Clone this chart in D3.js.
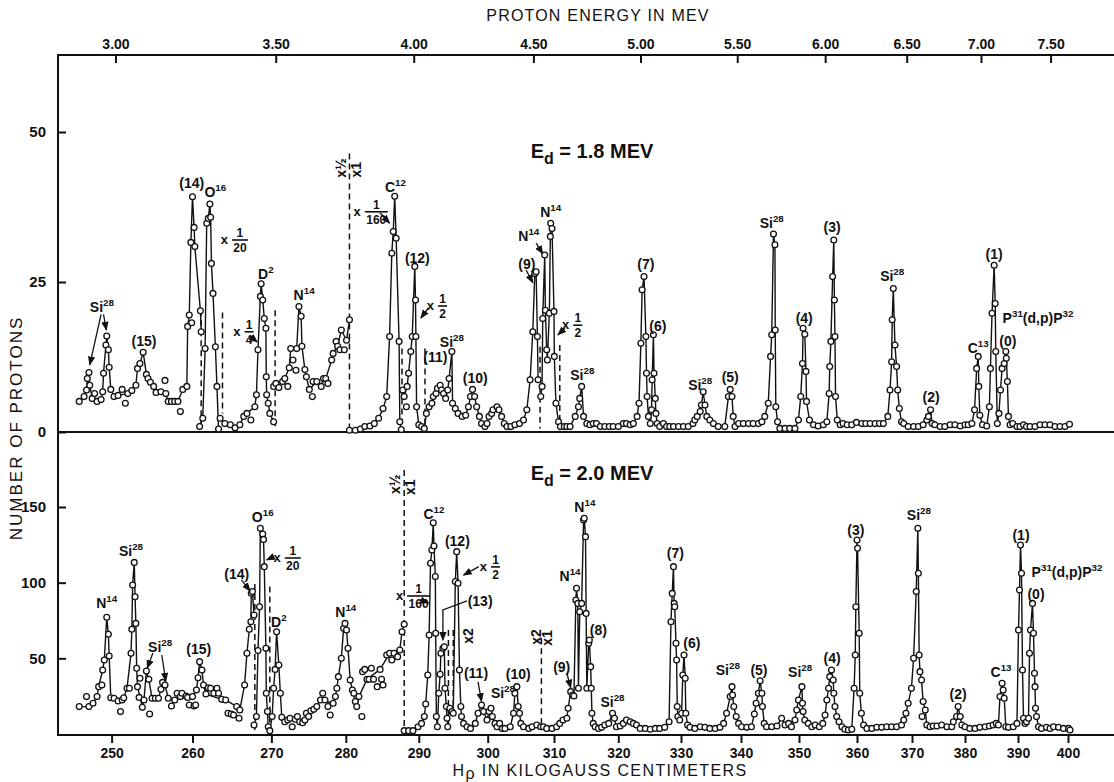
<!DOCTYPE html>
<html>
<head>
<meta charset="utf-8">
<script src="https://cdn.jsdelivr.net/npm/d3@7"></script>
<style>
  body { margin: 0; background: #fff; }
  svg { display: block; }
  text { font-family: "Liberation Sans", Arial, sans-serif; fill: #111; }
  .lbl { font-weight: bold; }
</style>
</head>
<body>
<svg id="chart" width="1114" height="782"></svg>
<script>
// ---- data ----
const hpTicks = [250, 260, 270, 280, 290, 300, 310, 320, 330, 340, 350, 360, 370, 380, 390, 400];
const energyTicks = [3.0, 3.5, 4.0, 4.5, 5.0, 5.5, 6.0, 6.5, 7.0, 7.5];
const topYTicks = [0, 25, 50];
const bottomYTicks = [50, 100, 150];

// [H rho, protons, f]  f: 2 = starts a new joined run, 1 = joined, 0 = point only
const topSeries = [
  [246.0,5.1,2],[246.6,5.9,1],[246.9,7.0,1],[247.0,8.9,1],[247.2,9.9,1],[247.3,7.8,1],[247.6,5.6,1],[247.9,6.4,0],
  [248.2,5.1,1],[248.7,5.4,1],[248.9,6.7,1],[249.0,9.8,1],[249.3,14.5,1],[249.4,16.0,1],[249.6,13.7,1],[249.7,10.8,1],
  [249.9,7.1,1],[250.3,5.9,1],[250.8,6.1,1],[251.3,7.1,0],[251.7,4.8,0],[252.0,6.4,1],[252.5,6.9,1],[253.0,7.8,1],
  [253.2,10.6,1],[253.5,11.4,1],[253.9,13.3,1],[254.3,9.6,1],[254.5,8.9,1],[254.8,8.3,1],[255.2,7.6,1],[255.5,6.6,1],
  [256.1,6.7,1],[256.6,8.6,0],[256.7,6.4,1],[257.0,5.1,1],[257.4,5.1,1],[257.8,5.1,1],[258.2,5.1,1],[258.5,3.4,0],
  [258.8,7.1,1],[259.3,7.6,1],[259.4,17.6,1],[259.6,19.5,1],[259.9,18.2,0],[259.8,31.6,1],[260.0,39.2,1],[260.2,34.1,1],
  [260.3,30.9,1],[261.0,20.2,1],[261.1,16.7,1],
  [260.9,0.9,2],[261.3,2.3,1],[261.6,13.9,1],[261.8,34.8,1],[262.0,35.6,1],[262.2,38.0,1],[262.3,35.8,1],[262.4,28.1,1],
  [262.6,23.1,1],[262.9,14.2,1],[263.1,7.6,1],[263.3,0.5,1],
  [263.5,2.3,2],[264.1,1.4,1],[264.8,1.2,1],[265.4,0.7,1],[266.0,1.2,1],[266.5,2.6,1],[266.9,3.1,1],[267.4,2.0,0],
  [267.9,4.2,1],[268.1,6.2,1],[268.3,13.7,1],[268.6,22.6,1],[268.7,24.7,1],[268.9,22.0,1],[269.1,18.9,1],[269.3,17.3,1],
  [269.35,9.2,1],[269.4,6.2,1],[269.6,4.8,1],[269.8,3.1,1],[270.3,1.7,1],
  [270.3,7.6,2],[270.6,8.1,1],[271.0,7.4,0],[271.5,8.4,1],[271.8,8.9,1],[272.2,7.6,0],[272.4,10.7,1],[272.6,13.9,1],
  [272.9,12.0,0],[273.3,10.3,0],[273.4,13.9,1],[273.7,20.9,1],[274.0,19.3,1],[274.1,14.3,1],[274.5,10.4,1],[274.7,9.2,1],
  [275.1,7.1,1],[275.5,5.9,0],[275.6,8.4,0],[276.1,8.4,1],[276.7,7.6,1],[277.0,8.9,1],[277.3,8.9,1],[277.6,8.1,0],
  [278.1,12.0,1],[278.3,13.1,1],[278.7,15.1,0],[278.9,14.3,1],[279.2,13.7,0],[279.4,17.0,1],[279.8,13.7,0],[280.1,15.3,1],
  [280.5,18.7,1],
  [280.5,0.3,2],[281.3,0.3,1],[282.0,0.5,1],[282.6,0.9,1],[283.3,1.0,1],[283.9,1.4,1],[284.5,2.3,1],[285.1,3.9,1],
  [285.6,5.9,1],[286.0,15.9,1],[286.3,29.8,1],[286.5,33.4,1],[286.7,39.3,1],[286.9,32.3,1],[287.3,15.1,1],[287.4,1.7,1],
  [287.6,0.4,1],
  [287.8,7.0,2],[288.0,5.9,1],[288.3,4.2,0],[288.4,7.6,1],[288.6,9.8,1],[288.9,13.4,1],[289.1,15.9,1],[289.45,27.6,1],
  [289.55,22.0,1],[289.6,15.9,1],[289.7,4.2,1],[290.0,1.2,1],[290.4,0.9,1],
  [290.8,0.6,2],[291.1,3.1,1],[291.5,4.2,1],[291.9,4.8,1],[292.1,5.9,1],[292.5,6.4,1],[292.7,7.3,1],[293.1,7.8,1],
  [293.3,7.0,1],[293.6,6.4,1],[293.9,5.6,1],[294.2,7.0,1],[294.4,8.9,1],[294.8,13.4,1],[294.9,4.8,1],[295.3,3.9,1],
  [295.7,3.1,1],[296.3,2.6,1],[296.8,2.8,1],[297.2,4.2,1],[297.5,5.9,1],[297.8,7.1,1],[298.1,5.9,1],[298.4,4.2,1],
  [298.8,2.6,1],[299.1,1.4,1],[299.6,0.9,1],[299.9,1.4,1],[300.2,2.6,1],[300.6,3.1,1],[300.8,3.7,1],[301.4,4.2,1],
  [301.7,3.7,1],[302.1,2.6,1],[302.5,1.4,1],[302.9,0.9,1],[303.5,0.9,1],[304.1,1.2,1],[304.8,1.4,1],[305.4,2.0,1],
  [305.9,3.7,1],[306.4,8.7,1],[306.8,16.7,1],[307.1,26.4,1],[307.3,26.7,1],[307.5,15.9,1],[307.6,8.7,1],
  [308.0,5.9,2],[308.2,7.6,1],[308.3,18.9,1],[308.6,29.5,1],[308.7,20.3,1],[308.9,13.7,1],[309.0,12.0,1],[309.3,19.8,1],
  [309.45,32.6,1],[309.5,34.8,1],[309.7,33.9,1],[310.0,20.1,1],[310.05,12.6,1],[310.3,4.8,1],[310.7,1.7,1],
  [311.0,0.9,2],[311.6,0.9,1],[312.0,0.9,1],[312.5,0.9,1],[313.3,2.6,1],[313.8,4.2,1],[314.0,5.6,1],[314.3,7.6,1],
  [314.6,2.6,1],[315.1,1.4,1],[315.6,1.2,1],[316.1,1.4,1],[316.6,1.4,1],[317.2,0.9,1],[317.9,0.9,1],[318.6,0.9,1],
  [319.2,0.9,1],[320.0,0.9,1],[320.8,1.4,1],[321.3,1.4,1],[321.9,1.2,1],[322.4,1.4,1],[323.0,2.6,1],[323.3,4.8,1],
  [323.6,14.8,1],[323.8,23.7,1],[324.1,25.9,1],[324.4,15.9,1],[324.5,9.8,1],[324.6,5.9,1],[324.8,2.6,1],[325.1,1.4,1],
  [325.3,3.7,1],[325.4,8.7,1],[325.6,16.2,1],[325.7,9.8,1],[325.9,5.6,1],[326.0,3.1,1],[326.2,1.4,1],[326.6,0.9,1],
  [327.2,1.4,1],[327.7,0.9,1],[328.2,0.9,1],[328.8,0.9,1],[329.6,0.9,1],[330.4,0.9,1],[331.2,0.9,1],[332.0,1.4,1],
  [332.3,2.0,1],[332.7,2.6,1],[333.2,3.4,1],[333.4,4.5,1],[333.7,6.7,1],[334.0,4.5,1],[334.3,2.6,1],[334.8,2.0,1],
  [335.4,1.4,1],[336.2,0.9,1],[337.3,0.9,1],[337.9,5.9,1],[338.2,7.1,1],[338.5,5.9,1],[338.7,2.6,1],[339.0,0.9,1],
  [339.6,1.4,1],[340.4,1.4,1],[341.3,1.4,1],[342.1,1.4,1],[343.0,1.4,1],[343.6,1.7,1],[344.1,2.6,1],[344.7,4.8,1],
  [345.1,12.6,1],[345.3,16.2,1],[345.6,33.0,1],[345.85,31.2,1],[345.9,17.0,1],[346.0,4.2,1],[346.3,1.7,1],[346.7,0.6,1],
  [347.6,0.6,1],[348.4,0.6,1],[349.3,0.6,1],[349.9,2.0,1],[350.3,5.9,1],[350.6,11.4,1],[350.7,17.3,1],[351.0,16.3,1],
  [351.2,10.1,1],[351.3,5.1,1],[351.8,2.0,1],[352.5,1.2,1],[353.3,1.0,1],[354.2,1.2,1],[354.8,1.7,1],[355.2,6.4,1],
  [355.3,10.9,1],[355.5,15.1,1],[355.8,25.9,1],[356.0,32.0,1],[356.1,22.0,1],[356.2,15.9,1],[356.3,5.9,1],[356.6,2.0,1],
  [357.1,1.2,1],[357.6,1.4,1],[358.3,1.2,1],[359.1,1.2,1],[359.9,1.6,1],[360.9,1.4,1],[361.6,1.4,1],[362.4,1.4,1],
  [363.3,1.4,1],[364.1,1.4,1],[364.8,1.4,1],[365.6,2.6,1],[366.0,7.0,1],[366.3,11.7,1],[366.4,18.7,1],[366.6,23.9,1],
  [366.9,14.5,1],[367.2,10.9,1],[367.4,7.0,1],[367.7,3.9,1],[368.1,1.7,1],[368.5,1.4,1],[369.3,0.9,1],[370.3,0.9,1],
  [371.2,0.9,1],[372.1,1.2,1],[372.8,2.0,1],[373.1,2.6,1],[373.5,3.7,1],[373.8,1.4,1],[374.3,1.2,1],[375.3,0.9,1],
  [376.2,0.9,1],[377.2,1.2,1],[378.1,1.2,1],[379.1,1.0,1],[380.0,1.2,1],[380.6,1.2,1],[381.3,1.4,1],[381.8,3.7,1],
  [382.2,10.6,1],[382.5,12.6,1],[382.6,7.6,1],[382.8,2.8,1],[383.3,1.2,1],[384.1,1.0,1],[384.6,4.2,1],[384.8,10.6,1],
  [385.1,19.8,1],[385.5,27.8,1],[385.7,21.4,1],[385.8,13.4,1],[386.1,1.4,1],[386.4,3.1,1],[386.7,7.0,1],[387.0,10.6,1],
  [387.4,11.4,1],[387.7,13.4,1],[387.8,12.3,1],[388.0,8.4,1],[388.2,2.6,1],[388.5,1.2,1],[389.0,1.4,1],[389.8,0.9,1],
  [390.4,0.9,1],[391.1,1.2,1],[391.7,0.9,1],[392.4,0.9,1],[393.4,0.9,1],[394.4,1.2,1],[395.4,1.2,1],[396.4,1.2,1],
  [397.4,0.9,1],[398.4,0.9,1],[399.4,0.9,1],[400.3,1.3,1]
];

const bottomSeries = [
  [246.0,18.1,2],[246.9,24.7,0],[247.2,18.1,1],[247.7,20.3,1],[248.2,24.7,1],[248.4,31.3,1],[248.8,32.4,0],[248.9,42.3,1],
  [249.1,48.9,1],[249.4,77.1,1],[249.6,65.9,1],[249.7,51.5,1],[249.9,24.0,1],[250.3,23.6,0],[250.8,21.8,0],[251.1,14.8,0],
  [251.3,22.5,1],[251.5,24.0,1],[251.9,30.2,1],[252.2,30.2,0],[252.4,53.3,1],[252.5,69.2,1],[252.6,98.5,1],[252.8,113.4,1],
  [252.9,90.7,1],[253.0,73.1,1],[253.1,43.4,1],[253.2,31.3,1],[253.4,24.2,0],[253.5,36.8,0],[253.8,17.6,1],[254.0,22.5,1],
  [254.3,41.6,1],[254.6,36.1,1],[254.7,13.2,0],[255.0,23.6,1],[255.4,23.6,1],[255.8,23.6,1],[256.1,29.5,1],[256.3,34.1,1],
  [256.6,32.4,1],[257.0,23.6,1],[257.4,18.5,0],[257.8,22.5,1],[258.1,26.9,0],[258.5,24.7,1],[258.7,26.9,0],[259.2,25.1,1],
  [259.4,24.2,1],[259.6,19.2,0],[260.0,24.7,1],[260.2,18.5,0],[260.4,19.2,0],[260.5,29.1,1],[260.7,37.2,1],[260.9,47.8,1],
  [261.2,42.3,1],[261.4,32.4,1],[261.7,26.4,1],[262.0,30.6,0],[262.3,30.2,0],[262.7,26.9,0],[263.1,30.2,0],[263.3,26.9,0],
  [263.7,22.9,1],[264.2,22.5,1],[264.5,13.7,0],[264.9,13.2,0],[265.2,12.6,0],[265.6,18.1,1],[265.9,10.4,0],[266.0,15.9,1],
  [266.6,32.4,1],[266.9,53.3,1],[267.2,69.2,1],[267.4,74.2,1],[267.45,93.0,1],[267.6,94.1,1],[267.8,78.6,1],
  [267.8,5.9,2],[268.1,11.5,1],[268.3,55.1,1],[268.5,84.1,1],[268.6,135.9,1],[268.9,132.2,1],[269.0,128.6,1],[269.1,110.6,1],
  [269.3,56.6,1],[269.35,26.9,1],[269.5,14.8,1],[269.6,4.8,1],
  [269.8,2.2,2],[270.1,11.5,1],[270.3,30.2,1],[270.5,42.7,1],[270.7,67.6,1],[271.0,45.6,1],[271.2,26.9,1],[271.4,11.0,1],
  [271.8,8.1,1],[272.2,9.3,1],[272.5,10.4,0],[272.8,4.8,0],[273.2,9.7,1],[273.5,11.5,0],[273.8,8.1,0],[274.2,7.5,0],
  [274.5,9.3,1],[274.7,13.7,0],[275.0,11.5,0],[275.3,15.4,1],[275.7,16.3,0],[276.1,18.1,1],[276.6,22.5,1],[276.9,26.9,0],
  [277.2,22.5,0],[277.6,18.1,0],[277.9,12.6,0],[278.3,20.3,1],[278.6,24.7,1],[278.8,30.2,1],[279.0,37.9,1],[279.4,50.0,1],
  [279.7,69.8,1],[279.9,73.1,1],[280.1,68.7,1],[280.3,56.6,1],[280.6,35.7,1],[280.9,29.1,1],[281.1,26.9,0],[281.3,21.4,1],
  [281.5,18.1,1],[281.8,24.7,1],[282.2,11.5,0],[282.3,41.2,0],[282.6,42.7,0],[282.9,36.1,1],[283.2,36.1,0],[283.5,43.4,0],
  [283.8,36.1,0],[284.3,31.3,0],[284.7,42.7,1],[284.9,36.1,0],[285.1,32.4,0],[285.6,52.2,0],[286.0,53.3,1],[286.3,48.9,0],
  [286.6,53.3,0],[287.1,51.1,0],[287.4,55.5,1],[287.7,67.6,1],[288.0,72.5,1],
  [288.0,2.2,2],[288.6,2.2,1],[289.2,2.2,1],[289.9,4.8,1],[290.4,7.0,1],[290.8,11.5,1],[291.0,19.8,1],[291.3,39.0,1],
  [291.5,65.4,1],[291.7,112.8,1],[291.9,121.6,1],[292.1,139.6,1],[292.2,124.2,1],[292.4,104.0,1],[292.45,66.5,1],[292.55,11.5,1],
  [292.7,4.8,1],[292.9,26.9,1],[293.1,39.4,1],[293.2,53.3,1],[293.5,56.6,1],[293.7,57.7,1],[293.8,30.2,1],[294.0,18.1,1],
  [294.1,10.4,1],[294.2,4.8,1],
  [294.5,17.0,2],[294.8,14.8,1],[295.0,13.7,1],[295.3,100.7,1],[295.5,120.5,1],[295.7,99.6,1],[295.9,42.3,1],[296.1,18.1,1],
  [296.2,11.5,1],[296.5,7.0,1],[297.0,4.8,1],[297.5,3.7,1],[298.2,7.0,1],[298.6,13.7,1],[299.1,19.2,1],[299.4,14.8,1],
  [299.9,9.3,1],[300.2,14.8,1],[300.5,17.0,1],[300.7,11.5,1],[301.1,7.0,1],[301.4,4.8,1],[301.8,7.0,1],[302.2,3.7,1],
  [302.6,3.7,1],[303.4,4.8,1],[303.9,13.7,1],[304.1,26.9,1],[304.4,31.3,1],[304.6,18.1,1],[304.8,13.7,1],[305.0,7.0,1],
  [305.4,4.8,1],[306.2,3.7,1],[306.7,4.8,1],[307.4,5.9,1],[308.0,4.8,1],
  [308.4,4.8,2],[308.9,3.7,1],[309.7,3.7,1],[310.4,4.8,1],[310.9,7.0,1],[311.4,9.3,1],[312.0,10.4,1],[312.2,17.0,1],
  [312.6,28.0,1],[312.9,25.8,1],[313.1,25.1,1],[313.4,88.5,1],[313.5,96.3,1],[313.7,86.3,1],[313.8,30.2,1],[314.0,80.8,1],
  [314.3,86.3,1],[314.6,141.4,1],[314.7,142.5,1],[314.9,130.4,1],[315.0,79.7,1],[315.1,30.2,1],[315.4,59.9,1],[315.5,62.1,1],
  [315.7,44.5,1],[315.8,30.2,1],[315.9,13.7,1],[316.1,7.0,1],[316.4,4.8,1],[316.9,3.7,1],[317.4,4.4,1],[317.9,5.9,1],
  [318.5,7.0,1],[319.1,13.7,1],[319.4,10.4,1],[319.7,4.8,1],[320.3,5.3,1],[320.8,7.0,1],[321.3,9.3,1],[321.9,8.1,1],
  [322.4,7.0,1],[322.9,5.9,1],[323.5,3.7,1],[324.3,3.7,1],[325.1,3.1,1],[325.9,3.7,1],[326.6,3.7,1],[327.4,4.4,1],
  [328.1,8.1,1],[328.4,74.2,1],[328.6,92.9,1],[328.8,110.6,1],[328.9,86.3,1],[329.0,84.1,1],[329.2,59.9,1],[329.3,48.9,1],
  [329.4,18.1,1],[329.5,11.5,1],[329.8,9.3,1],[330.1,13.7,1],[330.3,39.0,1],[330.5,52.2,1],[330.7,36.8,1],[330.8,13.7,1],
  [331.1,5.9,1],[331.5,4.4,1],[332.3,3.7,1],[333.2,4.8,1],[334.0,4.4,1],[334.8,3.7,1],[335.7,3.7,1],[336.5,4.4,1],
  [337.1,7.0,1],[337.6,13.7,1],[338.2,24.7,1],[338.5,31.3,1],[338.6,25.8,1],[338.8,18.1,1],[339.2,11.5,1],[339.6,7.0,1],
  [340.1,4.8,1],[341.0,4.4,1],[341.8,4.8,1],[342.3,13.2,1],[342.6,20.3,1],[343.0,26.9,1],[343.3,35.2,1],[343.6,26.9,1],
  [343.7,18.1,1],[344.0,7.0,1],[344.4,4.8,1],[345.3,4.8,1],[346.2,5.3,1],[347.0,10.4,1],[347.6,5.9,1],[348.2,7.0,1],
  [348.7,4.8,1],[349.3,9.3,1],[349.6,15.9,1],[349.9,22.5,1],[350.5,31.3,1],[350.6,20.3,1],[350.7,14.8,1],[351.0,9.3,1],
  [351.6,7.0,1],[352.2,4.8,1],[352.8,5.9,1],[353.5,4.8,1],[354.1,7.0,1],[354.5,12.6,1],[354.8,22.5,1],[355.1,30.2,1],
  [355.3,37.9,1],[355.6,42.3,1],[355.9,35.7,1],[356.0,26.9,1],[356.2,18.1,1],[356.5,11.5,1],[356.9,8.1,1],[357.4,4.8,1],
  [357.9,3.1,1],[358.5,2.6,1],[359.1,3.1,1],[359.5,30.2,1],[359.7,52.2,1],[359.8,84.1,1],[360.0,128.2,1],[360.1,122.7,1],
  [360.4,66.5,1],[360.5,26.9,1],[360.8,13.7,1],[361.2,5.9,1],[361.8,3.7,1],[362.7,3.7,1],[363.6,4.4,1],[364.5,4.4,1],
  [365.4,4.8,1],[366.3,4.8,1],[367.2,4.8,1],[368.1,5.9,1],[368.5,9.3,1],[368.9,13.7,1],[369.3,20.3,1],[369.9,30.2,1],
  [370.3,50.0,1],[370.8,94.1,1],[371.1,135.9,1],[371.2,106.2,1],[371.35,52.2,1],[371.5,41.2,1],[371.8,35.7,1],[371.9,11.5,0],
  [372.1,21.4,1],[372.5,15.9,1],[372.8,5.9,1],[373.4,4.8,1],[374.0,5.3,1],[374.7,5.3,1],[375.6,5.9,1],[376.6,4.8,1],
  [377.5,4.8,1],[377.8,8.1,1],[378.4,11.5,1],[378.7,18.1,1],[379.1,11.5,1],[379.4,5.9,1],[380.0,4.8,1],[380.9,3.7,1],
  [381.9,3.7,1],[382.8,4.4,1],[383.8,4.8,1],[384.6,5.3,1],[385.3,5.9,1],[385.9,7.0,1],[386.3,5.9,1],[386.6,24.7,1],
  [387.0,33.5,1],[387.2,29.1,1],[387.4,23.6,1],[387.7,4.8,1],[388.2,4.4,1],[389.1,4.8,1],[389.8,7.0,1],[390.1,68.7,1],
  [390.3,95.2,1],[390.5,124.9,1],[390.7,106.2,1],[390.9,42.3,1],[391.1,10.4,1],[391.4,7.0,1],[391.7,8.1,1],[392.1,10.4,1],
  [392.3,53.3,1],[392.5,68.7,1],[392.9,86.3,1],[393.1,66.5,1],[393.3,40.1,1],[393.4,31.3,1],[393.5,17.0,1],[393.7,11.5,1],
  [394.1,4.8,1],[394.7,3.7,1],[395.7,4.4,1],[396.4,3.7,1],[397.1,4.8,1],[398.1,4.4,1],[399.1,3.7,1],[400.1,3.7,1],
  [400.4,2.6,1]
];

// scale-change markers (dashed): [H rho, from, to]
const topBreaks = [[261.1,20.3,0.9],[263.8,19.9,3.1],[270.5,20.3,0.3],[280.5,46.4,0.3],[287.7,13.9,1.4],
  [290.9,13.9,0.6],[307.9,14.2,0.6],[310.9,14.5,0.3]];
const bottomBreaks = [[267.9,99.1,1.5],[269.8,97.4,1.5],[288.0,174.4,1.5],[294.3,68.7,4.8],[295.0,68.7,11.5],
  [308.1,63.2,7.0]];

// peak labels: [text, H rho, protons]   ^ = superscript
const topLabels = [
  ["Si^28",248.8,20.8],["(15)",254.0,15.2],["(14)",259.9,41.5],["O^16",262.9,40.0],["D^2",269.3,26.3],
  ["N^14",274.4,22.8],["C^12",286.8,40.8],["(12)",289.8,29.0],["Si^28",294.8,15.0],["(11)",292.4,12.5],
  ["(10)",298.2,9.0],["(9)",305.9,28.0],["N^14",306.2,32.7],["N^14",309.5,36.7],["Si^28",314.4,9.5],
  ["(7)",324.4,28.0],["(6)",326.3,17.7],["Si^28",333.2,7.8],["(5)",338.2,9.2],["Si^28",345.3,34.8],
  ["(4)",350.9,19.0],["(3)",355.7,34.2],["Si^28",366.4,26.0],["(2)",373.6,5.8],["C^13",382.5,14.0],
  ["(1)",385.5,29.7],["P^31(d,p)P^32",394.0,19.0],["(0)",388.1,15.2]
];
const bottomLabels = [
  ["N^14",249.4,86.6],["Si^28",252.4,121.0],["Si^28",256.0,57.5],["(15)",260.8,56.2],["(14)",265.6,105.7],
  ["O^16",268.9,143.4],["D^2",271.0,74.0],["N^14",280.0,80.6],["C^12",292.2,145.4],["(12)",295.6,127.6],
  ["(13)",298.9,88.0],["(11)",298.3,40.5],["Si^28",302.3,27.0],["(10)",304.6,39.5],["(9)",311.2,44.3],
  ["N^14",312.5,104.4],["N^14",314.8,150.0],["(8)",316.9,68.7],["Si^28",319.1,21.1],["(7)",329.1,119.6],
  ["(6)",331.8,60.1],["Si^28",337.8,42.3],["(5)",343.1,42.3],["Si^28",350.2,41.0],["(4)",355.7,50.2],
  ["(3)",359.8,134.8],["Si^28",371.3,144.7],["(2)",378.7,26.4],["C^13",386.8,41.0],["(1)",390.6,131.5],
  ["P^31(d,p)P^32",399.8,107.1],["(0)",393.6,92.5]
];

// scale factors written as "x 1/n": [denominator, H rho, protons]
const topFactors = [["20",265.0,32.0],["4",266.6,16.7],["160",282.6,36.7],["2",292.8,21.0],["2",313.0,17.8]];
const bottomFactors = [["20",271.8,116.3],["160",288.4,91.2],["2",300.5,110.4]];

// rotated factor marks beside the dashed lines: [text, H rho, protons]
const topTurned = [["x\u00bd",279.4,44.0],["x1",281.4,43.7]];
const bottomTurned = [["x\u00bd",286.7,165.0],["x1",288.8,163.0],["x2",297.2,64.8],["x2",307.3,64.1],["x1",308.9,63.4]];

// leader arrows: list of [H rho, protons]
const topArrows = [
  [[248.7,19.6],[247.3,11.2]],[[249.0,19.6],[249.35,17.0]],[[267.3,16.0],[268.2,15.0]],
  [[284.7,36.5],[286.0,34.8]],[[291.4,20.7],[290.3,19.0]],[[305.8,27.0],[306.8,24.9]],
  [[307.3,31.5],[308.3,29.7]],[[311.7,17.3],[310.6,16.2]]
];
const bottomArrows = [
  [[255.1,53.5],[254.4,43.5]],[[256.2,52.2],[256.7,35.0]],[[266.2,101.8],[267.3,94.5]],
  [[270.3,117.2],[269.4,115.0]],[[290.2,88.6],[291.4,86.6]],[[298.7,110.6],[296.5,105.0]],
  [[297.0,87.9],[293.5,82.0],[293.5,62.0]],[[298.6,34.5],[299.1,21.5]],[[312.0,40.3],[312.6,30.5]]
];

// ---- layout ----
const svg = d3.select("#chart");
const axisLeftX = 58, rightEdge = 1114, topAxisY = 55, bottomAxisY = 735;
// plate position of the H rho ticks (the spectrograph scale is not linear)
const hpTickPx = [111.6, 192.5, 271.4, 345.8, 418.8, 487.7, 554, 618.3, 681, 741, 799, 857, 912, 965, 1018, 1068];

const x = d3.scaleLinear().domain(hpTicks).range(hpTickPx);
const yTop = d3.scaleLinear().domain([0, 50]).range([432, 132]);
const yBottom = d3.scaleLinear().domain([0, 150]).range([734, 507]);

// proton energy (MeV) -> H rho (kilogauss cm), relativistic
const hpOfEnergy = (e) => Math.sqrt(e * e + 2 * 938.27 * e) / 0.29979;
const xEnergy = d3.scaleLinear().domain(energyTicks).range(energyTicks.map((e) => x(hpOfEnergy(e))));

svg.append("defs").append("marker")
  .attr("id", "arrow").attr("viewBox", "0 0 10 8").attr("refX", 9).attr("refY", 4)
  .attr("markerWidth", 7).attr("markerHeight", 6).attr("orient", "auto")
  .append("path").attr("d", "M0,0L10,4L0,8Z").attr("fill", "#111");

// frame lines
const frame = svg.append("g").attr("stroke", "#111").attr("stroke-width", 2);
frame.append("line").attr("x1", axisLeftX).attr("x2", axisLeftX).attr("y1", topAxisY - 1).attr("y2", bottomAxisY + 1);
frame.append("line").attr("x1", axisLeftX).attr("x2", rightEdge).attr("y1", topAxisY).attr("y2", topAxisY);
frame.append("line").attr("x1", axisLeftX).attr("x2", rightEdge).attr("y1", yTop(0)).attr("y2", yTop(0));
frame.append("line").attr("x1", axisLeftX).attr("x2", rightEdge).attr("y1", bottomAxisY).attr("y2", bottomAxisY);

function styleAxis(g, size) {
  g.select(".domain").remove();
  g.selectAll(".tick line").attr("stroke", "#111").attr("stroke-width", 2);
  g.selectAll(".tick text").attr("class", "lbl").style("font-size", size + "px").attr("fill", "#111");
}

svg.append("g").attr("transform", `translate(0,${bottomAxisY})`)
  .call(d3.axisBottom(x).tickValues(hpTicks).tickSize(8).tickPadding(5))
  .call(styleAxis, 14);

svg.append("g").attr("transform", `translate(0,${topAxisY})`)
  .call(d3.axisTop(xEnergy).tickValues(energyTicks).tickSize(-8).tickPadding(6).tickFormat(d3.format(".2f")))
  .call(styleAxis, 14);

svg.append("g").attr("transform", `translate(${axisLeftX},0)`)
  .call(d3.axisLeft(yTop).tickValues(topYTicks).tickSize(-8).tickPadding(12))
  .call(styleAxis, 15);

svg.append("g").attr("transform", `translate(${axisLeftX},0)`)
  .call(d3.axisLeft(yBottom).tickValues(bottomYTicks).tickSize(-8).tickPadding(12))
  .call(styleAxis, 15);

// axis titles
svg.append("text").attr("x", 598).attr("y", 21).attr("text-anchor", "middle")
  .style("font-size", "16px").style("letter-spacing", "1.2px").text("PROTON ENERGY IN MEV");

const hTitle = svg.append("text").attr("x", 600).attr("y", 776).attr("text-anchor", "middle")
  .style("font-size", "16px").style("letter-spacing", "1.4px");
hTitle.append("tspan").text("H");
hTitle.append("tspan").attr("dy", 3).text("\u03c1");
hTitle.append("tspan").attr("dy", -3).text("  IN KILOGAUSS CENTIMETERS");

svg.append("text").attr("transform", "translate(22,428) rotate(-90)").attr("text-anchor", "middle")
  .style("font-size", "17px").style("letter-spacing", "2px").text("NUMBER OF PROTONS");

// text with ^superscripts
function richText(g, str, px, py, size) {
  const t = g.append("text").attr("class", "lbl").attr("x", px).attr("y", py + size * 0.36)
    .attr("text-anchor", "middle").style("font-size", size + "px");
  let up = false;
  str.split(/(\^\d+)/).filter(Boolean).forEach((part) => {
    if (part[0] === "^") {
      t.append("tspan").attr("dy", -size * 0.42).style("font-size", size * 0.7 + "px").text(part.slice(1));
      up = true;
    } else {
      t.append("tspan").attr("dy", up ? size * 0.42 : 0).text(part);
      up = false;
    }
  });
  return t;
}

function drawPanel(y, series, breaks, labels, factors, turned, arrows, title, titleY) {
  const g = svg.append("g");

  g.selectAll(".brk").data(breaks).join("line")
    .attr("x1", (d) => x(d[0])).attr("x2", (d) => x(d[0]))
    .attr("y1", (d) => y(d[1])).attr("y2", (d) => y(d[2]))
    .attr("stroke", "#111").attr("stroke-width", 1.5).attr("stroke-dasharray", "6,4");

  const runs = [];
  let cur = null;
  for (const [h, v, f] of series) {
    if (f === 2 || !cur) { cur = []; runs.push(cur); }
    if (f > 0) cur.push([h, v]);
  }
  const line = d3.line().x((d) => x(d[0])).y((d) => y(d[1]));
  g.selectAll(".run").data(runs).join("path")
    .attr("d", line).attr("fill", "none").attr("stroke", "#111").attr("stroke-width", 1.4)
    .attr("stroke-linejoin", "round");

  g.selectAll(".pt").data(series).join("circle")
    .attr("cx", (d) => x(d[0])).attr("cy", (d) => y(d[1])).attr("r", 2.9)
    .attr("fill", "#fff").attr("stroke", "#111").attr("stroke-width", 1.3);

  g.selectAll(".arr").data(arrows).join("path")
    .attr("d", d3.line().x((d) => x(d[0])).y((d) => y(d[1])))
    .attr("fill", "none").attr("stroke", "#111").attr("stroke-width", 1.3)
    .attr("marker-end", "url(#arrow)");

  labels.forEach(([s, h, v]) => richText(g, s, x(h), y(v), 14));

  factors.forEach(([den, h, v]) => {
    const px = x(h), py = y(v);
    const w = den.length * 7 + 2;
    g.append("text").attr("class", "lbl").attr("x", px - 4).attr("y", py + 4)
      .attr("text-anchor", "end").style("font-size", "13px").text("x");
    g.append("text").attr("class", "lbl").attr("x", px + w / 2).attr("y", py - 3)
      .attr("text-anchor", "middle").style("font-size", "12px").text("1");
    g.append("line").attr("x1", px).attr("x2", px + w).attr("y1", py).attr("y2", py)
      .attr("stroke", "#111").attr("stroke-width", 1.6);
    g.append("text").attr("class", "lbl").attr("x", px + w / 2).attr("y", py + 12)
      .attr("text-anchor", "middle").style("font-size", "12px").text(den);
  });

  turned.forEach(([s, h, v]) => {
    g.append("text").attr("class", "lbl")
      .attr("transform", `translate(${x(h) + 5},${y(v)}) rotate(-90)`)
      .attr("text-anchor", "middle").style("font-size", "14px").text(s);
  });

  const t = g.append("text").attr("class", "lbl").attr("x", 592).attr("y", titleY)
    .attr("text-anchor", "middle").style("font-size", "20px");
  t.append("tspan").text("E");
  t.append("tspan").attr("dy", 6).style("font-size", "16px").text("d");
  t.append("tspan").attr("dy", -6).text(" = " + title + "  MEV");
}

drawPanel(yTop, topSeries, topBreaks, topLabels, topFactors, topTurned, topArrows, "1.8", 158);
drawPanel(yBottom, bottomSeries, bottomBreaks, bottomLabels, bottomFactors, bottomTurned, bottomArrows, "2.0", 480);
</script>
</body>
</html>
